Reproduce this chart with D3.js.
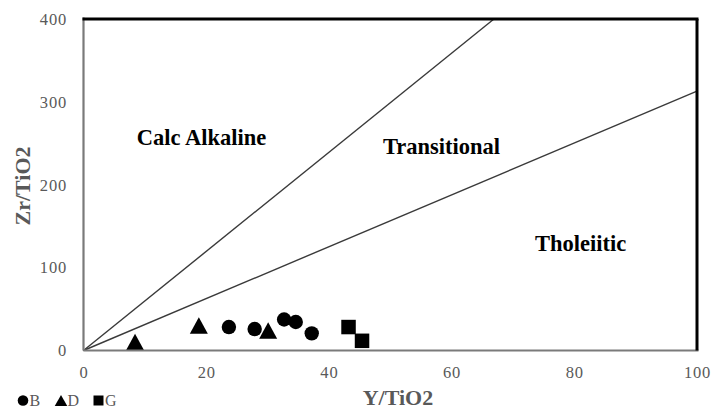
<!DOCTYPE html>
<html>
<head>
<meta charset="utf-8">
<script src="https://cdn.jsdelivr.net/npm/d3@7"></script>
<style>
  html, body { margin: 0; padding: 0; background: #fff; }
  svg { display: block; }
</style>
</head>
<body>
<svg id="chart" width="713" height="409"></svg>
<script>
// Sample groups: [Y/TiO2, Zr/TiO2]
const groupB = [[23.7, 28.3], [27.9, 25.9], [32.7, 37.4], [34.6, 34.4], [37.2, 20.7]];
const groupD = [[8.4, 10.2], [18.8, 30.2], [30.1, 24.1]];
const groupG = [[43.2, 28.3], [45.4, 11.7]];

// Discriminant boundaries through the origin (end points in data units)
const boundaryEnds = [[66.9, 400], [100, 313]];

// Field names with their anchor points in data units
const fieldNames = ["Calc Alkaline", "Transitional", "Tholeiitic"];
const fieldAnchors = [[8.7, 248], [48.8, 237], [73.6, 120.5]];

const xTicks = [0, 20, 40, 60, 80, 100];
const yTicks = [0, 100, 200, 300, 400];
const legendNames = ["B", "D", "G"];

const svg = d3.select("#chart");
const x = d3.scaleLinear().domain([0, 100]).range([83.5, 697]);
const y = d3.scaleLinear().domain([0, 400]).range([350.5, 19]);

const grey = "#595959";
const serif = "Liberation Serif, Times New Roman, serif";

// Boundary lines
svg.append("g").selectAll("line").data(boundaryEnds).join("line")
  .attr("x1", x(0)).attr("y1", y(0))
  .attr("x2", d => x(d[0])).attr("y2", d => y(d[1]))
  .attr("stroke", "#3a3a3a").attr("stroke-width", 1.4);

// Field labels
svg.append("g").selectAll("text").data(fieldNames).join("text")
  .attr("x", (d, i) => x(fieldAnchors[i][0]))
  .attr("y", (d, i) => y(fieldAnchors[i][1]))
  .attr("font-family", serif).attr("font-weight", "bold")
  .attr("font-size", 22.5).attr("fill", "#000")
  .text(d => d);

// Marker shapes
const triPath = (w, h) => `M0,${-h / 2}L${w / 2},${h / 2}L${-w / 2},${h / 2}Z`;
const sqPath = s => `M${-s / 2},${-s / 2}h${s}v${s}h${-s}Z`;

const marks = svg.append("g");
marks.selectAll("circle.b").data(groupB).join("circle")
  .attr("class", "b")
  .attr("cx", d => x(d[0])).attr("cy", d => y(d[1]))
  .attr("r", 7.2).attr("fill", "#000");
marks.selectAll("path.d").data(groupD).join("path")
  .attr("class", "d")
  .attr("transform", d => `translate(${x(d[0])},${y(d[1])})`)
  .attr("d", triPath(18, 16.5)).attr("fill", "#000");
marks.selectAll("path.g").data(groupG).join("path")
  .attr("class", "g")
  .attr("transform", d => `translate(${x(d[0])},${y(d[1])})`)
  .attr("d", sqPath(14.5)).attr("fill", "#000");

// Plot frame: grey axes on the left/bottom, black border on top/right
svg.append("line").attr("x1", x(0)).attr("x2", x(0)).attr("y1", y(400) - 1.5).attr("y2", y(0))
  .attr("stroke", "#7a7a7a").attr("stroke-width", 2.2);
svg.append("line").attr("x1", x(0)).attr("x2", x(100) + 1.5).attr("y1", y(0)).attr("y2", y(0))
  .attr("stroke", "#7a7a7a").attr("stroke-width", 2.2);
svg.append("line").attr("x1", x(0) - 1).attr("x2", x(100) + 1.5).attr("y1", y(400)).attr("y2", y(400))
  .attr("stroke", "#000").attr("stroke-width", 3);
svg.append("line").attr("x1", x(100)).attr("x2", x(100)).attr("y1", y(400)).attr("y2", y(0))
  .attr("stroke", "#000").attr("stroke-width", 3);

// Axes (labels only)
const xAxis = svg.append("g").attr("transform", `translate(0,${y(0)})`)
  .call(d3.axisBottom(x).tickValues(xTicks).tickSize(0).tickFormat(d3.format("d")));
xAxis.select(".domain").remove();
xAxis.selectAll("text").attr("y", 27.5).attr("dy", null)
  .attr("font-family", serif).attr("font-size", 16.5).attr("letter-spacing", 0.8)
  .attr("fill", grey);

const yAxis = svg.append("g").attr("transform", `translate(${x(0)},0)`)
  .call(d3.axisLeft(y).tickValues(yTicks).tickSize(0).tickPadding(16.5).tickFormat(d3.format("d")));
yAxis.select(".domain").remove();
yAxis.selectAll("text")
  .attr("font-family", serif).attr("font-size", 16.5).attr("letter-spacing", 0.8)
  .attr("fill", grey);

// Axis titles
svg.append("text").attr("x", 398).attr("y", 405).attr("text-anchor", "middle")
  .attr("font-family", serif).attr("font-weight", "bold").attr("font-size", 22)
  .attr("fill", grey).text("Y/TiO2");
svg.append("text").attr("transform", "translate(30,186) rotate(-90)").attr("text-anchor", "middle")
  .attr("font-family", serif).attr("font-weight", "bold").attr("font-size", 22)
  .attr("fill", grey).text("Zr/TiO2");

// Legend
const legend = svg.append("g").attr("transform", "translate(0,400.5)");
const legendX = [23, 61, 98.5];
const legendShapes = [
  g => g.append("circle").attr("r", 5.3),
  g => g.append("path").attr("d", triPath(12.5, 11)),
  g => g.append("path").attr("d", sqPath(10))
];
legendNames.forEach((name, i) => {
  const item = legend.append("g").attr("transform", `translate(${legendX[i]},0)`);
  legendShapes[i](item).attr("fill", "#000");
  item.append("text").attr("x", 6.5).attr("y", 5)
    .attr("font-family", serif).attr("font-size", 16).attr("fill", grey)
    .text(name);
});
</script>
</body>
</html>
